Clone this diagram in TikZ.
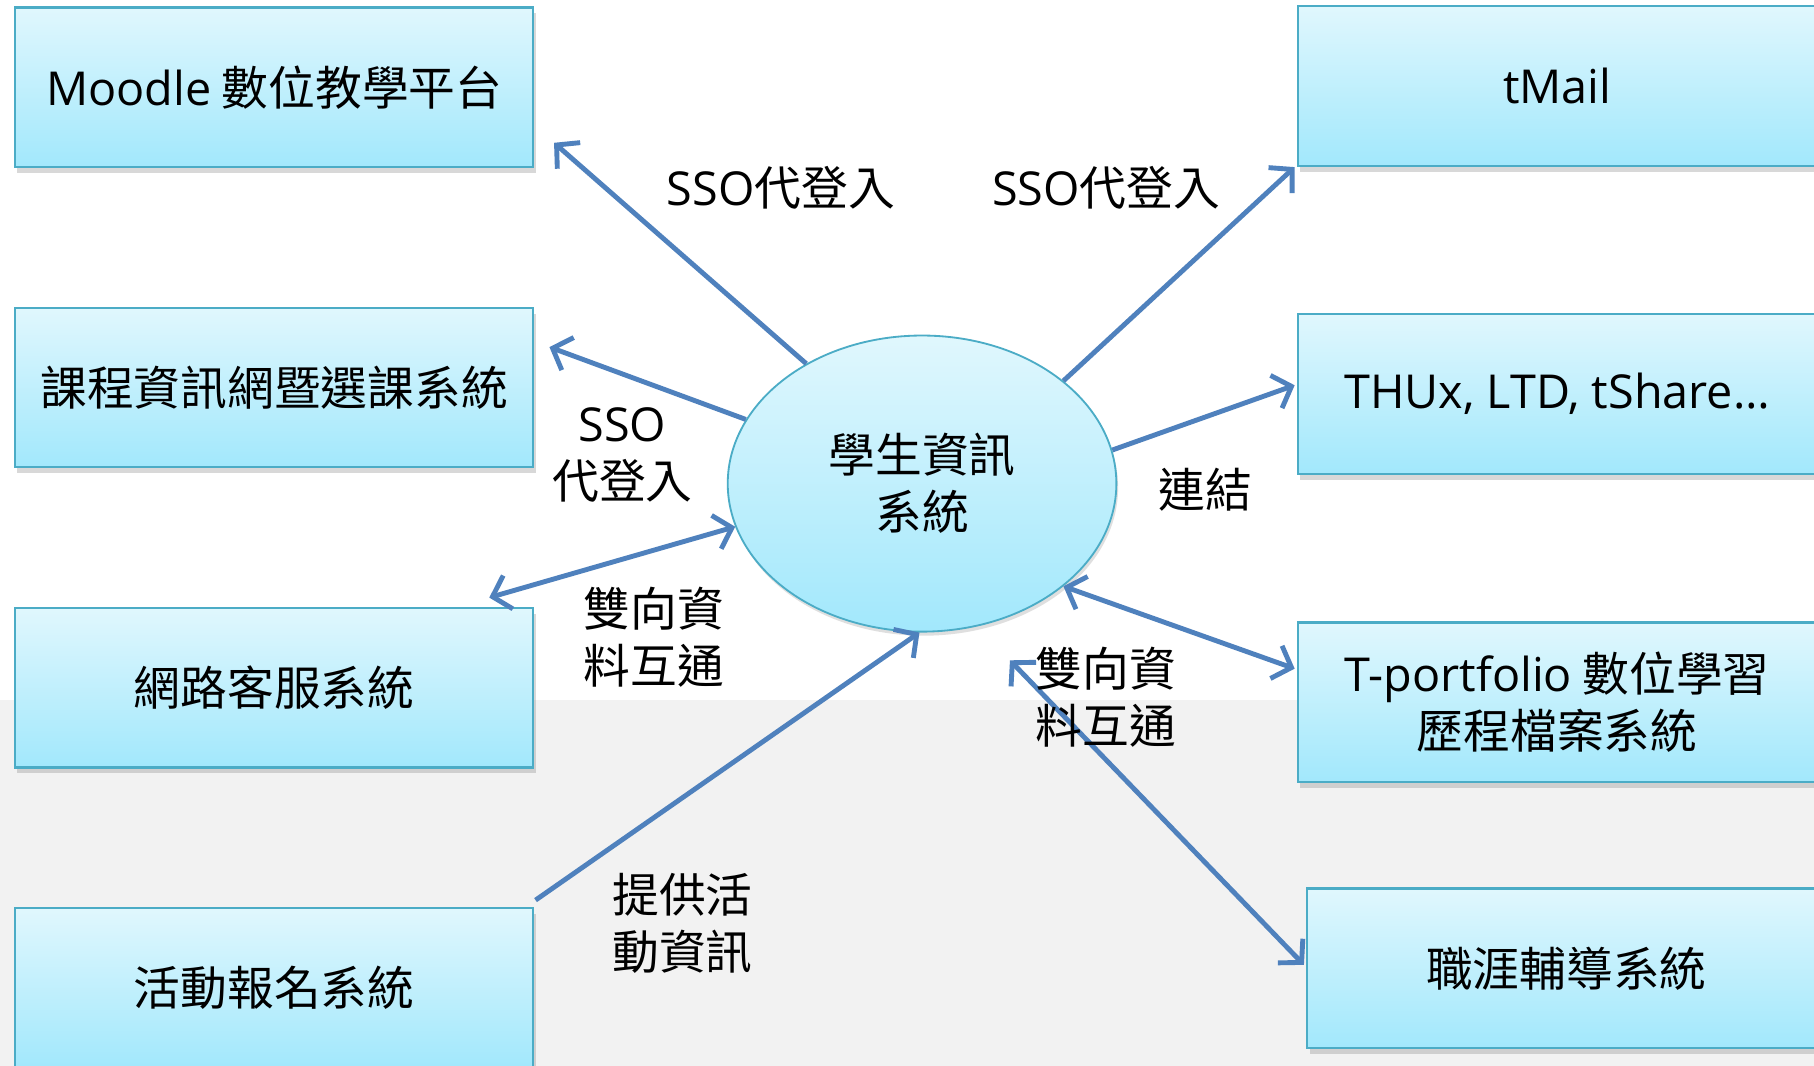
\documentclass[tikz,border=0pt]{standalone}
\usepackage{fontspec}
\setmainfont{Noto Sans CJK TC}
\newfontfamily\lat{Open Sans}
\usepackage{tikz}
\usetikzlibrary{calc,arrows.meta,positioning,shadows,shapes.geometric}

\definecolor{BoxTop}{HTML}{E0F7FD}
\definecolor{BoxBottom}{HTML}{A2E8FC}
\definecolor{BoxLine}{HTML}{4BACC6}
\definecolor{LinkBlue}{HTML}{4F81BD}
\definecolor{Band}{HTML}{F2F2F2}

\begin{document}
\begin{tikzpicture}[x=0.02cm,y=0.02cm,
  sysbox/.style={draw=BoxLine,line width=1.1pt,top color=BoxTop,bottom color=BoxBottom,minimum width=8.96cm,minimum height=2.76cm,inner sep=0pt,align=center,font=\fontsize{23}{28}\selectfont,drop shadow={shadow xshift=0.04cm,shadow yshift=-0.1cm,opacity=0.3}},
  hub/.style={ellipse,draw=BoxLine,line width=0.9pt,top color=BoxTop,bottom color=BoxBottom,minimum width=6.72cm,minimum height=5.12cm,inner sep=0pt,align=center,font=\fontsize{23}{28}\selectfont,drop shadow={shadow xshift=0.03cm,shadow yshift=-0.07cm,opacity=0.25}},
  onearrow/.style={draw=LinkBlue,line width=2.4pt,-{Straight Barb[length=0.28cm,width=0.6cm]}},
  twoarrow/.style={draw=LinkBlue,line width=2.4pt,{Straight Barb[length=0.28cm,width=0.6cm]}-{Straight Barb[length=0.28cm,width=0.6cm]}},
  tag/.style={align=center,inner sep=0pt,font=\fontsize{23}{28}\selectfont}]

  \useasboundingbox (0,0) rectangle (1568,921);
  \fill[white] (0,0) rectangle (1568,921);
  \fill[Band] (0,0) rectangle (1568,316);

  % Hub
  \path (797,503) node[hub] (stu) {學生資訊\\系統};

  % Left systems
  \path (237,845.5) node[sysbox] (moodle) {{\lat Moodle} 數位教學平台};
  \path (237,586)   node[sysbox] (course) {課程資訊網暨選課系統};
  \path (237,326.5) node[sysbox] (service) {網路客服系統};
  \path (237,67)    node[sysbox] (activity) {活動報名系統};

  % Right systems
  \path (1346,846.5) node[sysbox] (tmail) {\lat tMail};
  \path (1346,580.5) node[sysbox] (thux) {\lat THUx, LTD, tShare…};
  \path (1346,314)   node[sysbox] (portfolio) {{\lat T-portfolio} 數位學習\\歷程檔案系統};
  \path (1354,84)    node[sysbox] (career) {職涯輔導系統};

  % Links
  \coordinate (stu-low) at ($(stu.south)+(76,-24)$);
  \draw[onearrow] (stu.134) -- ([shift={(17,22)}]moodle.south east);
  \draw[onearrow] (stu.36) -- ([shift={(-2,0)}]tmail.south west);
  \draw[onearrow] (stu.160) -- ([shift={(13,35)}]course.east);
  \draw[onearrow] (stu.10) -- ([shift={(-2,7.5)}]thux.west);
  \draw[twoarrow] ([shift={(-39,8)}]service.north east) -- (stu.193);
  \draw[twoarrow] (stu.-36) -- ([shift={(-2,29)}]portfolio.west);
  \draw[onearrow] ([shift={(1,6)}]activity.north east) -- (stu.269);
  \draw[twoarrow] ([shift={(-2,3)}]career.west) -- (stu-low);

  % Labels
  \path (675,759)  node[tag] (sso-a) {{\lat SSO}代登入};
  \path (956,759)  node[tag] (sso-b) {{\lat SSO}代登入};
  \path (538,528)  node[tag] (sso-c) {{\lat SSO}\\代登入};
  \path (1042,498) node[tag] (join) {連結};
  \path (565,370)  node[tag] (sync-a) {雙向資\\料互通};
  \path (956,318)  node[tag] (sync-b) {雙向資\\料互通};
  \path (590,123)  node[tag] (info) {提供活\\動資訊};

\end{tikzpicture}
\end{document}
